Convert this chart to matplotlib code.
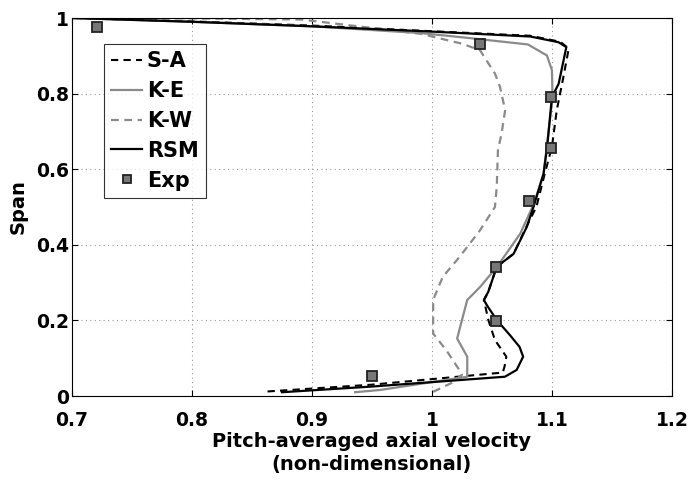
import matplotlib.pyplot as plt

# values
sa_x = [0.863, 0.95, 1.059, 1.0605, 1.062, 1.0525, 1.047, 1.0433, 1.047, 1.054, 1.068, 1.080,
        1.087, 1.094, 1.100, 1.104, 1.109, 1.114, 1.107, 1.082, 1.0, 0.9, 0.8, 0.7]
sa_y = [0.012, 0.030, 0.062, 0.078, 0.104, 0.148, 0.201, 0.254, 0.276, 0.342, 0.376, 0.456,
        0.500, 0.588, 0.659, 0.756, 0.835, 0.919, 0.937, 0.953, 0.965, 0.980, 0.991, 1.0]

ke_x = [0.936, 0.957, 1.0294, 1.0294, 1.021, 1.0294, 1.040, 1.054, 1.0735, 1.085, 1.093,
        1.097, 1.1005, 1.100, 1.0958, 1.080, 1.025, 0.991, 0.9, 0.8, 0.7]
ke_y = [0.010, 0.016, 0.051, 0.104, 0.152, 0.254, 0.288, 0.341, 0.429, 0.509, 0.588,
        0.694, 0.791, 0.862, 0.901, 0.930, 0.949, 0.960, 0.978, 0.990, 1.0]

kw_x = [1.001, 1.016, 1.025, 1.023, 1.012, 1.001, 1.001, 1.002, 1.009, 1.023, 1.040, 1.0525,
        1.054, 1.055, 1.058, 1.061, 1.0567, 1.0525, 1.040, 1.025, 0.991, 0.891, 0.8, 0.7]
kw_y = [0.011, 0.034, 0.056, 0.068, 0.121, 0.165, 0.254, 0.262, 0.315, 0.368, 0.438, 0.500,
        0.553, 0.650, 0.694, 0.756, 0.818, 0.853, 0.915, 0.932, 0.958, 0.996, 0.999, 1.0]

rsm_x = [0.875, 0.95, 1.0608, 1.0706, 1.076, 1.073, 1.065, 1.054, 1.0456, 1.0433, 1.047,
         1.054, 1.068, 1.079, 1.0846, 1.093, 1.096, 1.100, 1.1056, 1.112, 1.1054, 1.082,
         1.0, 0.9, 0.8, 0.7]
rsm_y = [0.010, 0.025, 0.051, 0.069, 0.104, 0.130, 0.161, 0.201, 0.241, 0.254, 0.276,
         0.342, 0.376, 0.447, 0.500, 0.588, 0.659, 0.791, 0.826, 0.923, 0.936, 0.951,
         0.964, 0.978, 0.990, 1.0]

exp_x = [0.721, 1.040, 1.099, 1.099, 1.081, 1.053, 1.053, 0.950]
exp_y = [0.976, 0.931, 0.791, 0.657, 0.517, 0.342, 0.199, 0.053]

plt.rcParams['font.family'] = ['DejaVu Sans']
plt.rcParams['font.weight'] = 'bold'

fig = plt.figure(figsize=(6.92, 4.8), dpi=100)
ax = fig.add_axes([0.104, 0.175, 0.867, 0.7875])

dash = (0, (3.5, 2.5))
ax.plot(sa_x, sa_y, color='black', linestyle=dash, linewidth=1.5, label='S-A')
ax.plot(ke_x, ke_y, color='#8a8a8a', linestyle='-', linewidth=1.6, label='K-E')
ax.plot(kw_x, kw_y, color='#8a8a8a', linestyle=dash, linewidth=1.6, label='K-W')
ax.plot(rsm_x, rsm_y, color='black', linestyle='-', linewidth=1.6, label='RSM')
ax.plot(exp_x, exp_y, linestyle='none', marker='s', markersize=7.5,
        markerfacecolor='#777777', markeredgecolor='#222222', markeredgewidth=1.3, label='Exp')

ax.set_xlim(0.7, 1.2)
ax.set_ylim(0, 1)
ax.set_xticks([0.7, 0.8, 0.9, 1.0, 1.1, 1.2])
ax.set_xticklabels(['0.7', '0.8', '0.9', '1', '1.1', '1.2'])
ax.set_yticks([0, 0.2, 0.4, 0.6, 0.8, 1.0])
ax.set_yticklabels(['0', '0.2', '0.4', '0.6', '0.8', '1'])
ax.tick_params(direction='in', top=True, right=True, labelsize=13.5, length=4)
ax.tick_params(axis='x', pad=11)
ax.tick_params(axis='y', pad=2)
for lab in ax.get_xticklabels() + ax.get_yticklabels():
    lab.set_fontweight('bold')
ax.grid(True, linestyle=(0, (1, 3)), color='#999999', linewidth=0.8)

ax.set_xlabel('Pitch-averaged axial velocity\n(non-dimensional)', fontsize=14,
              fontweight='bold', linespacing=1.3, labelpad=1)
ax.set_ylabel('Span', fontsize=14, fontweight='bold', labelpad=6)

leg = ax.legend(loc='upper left', bbox_to_anchor=(0.0533, 0.931), fontsize=15,
                frameon=True, fancybox=False, edgecolor='black', handlelength=1.5,
                handletextpad=0.2, borderpad=0.35, labelspacing=0.47, borderaxespad=0,
                markerscale=0.8)
leg.get_frame().set_linewidth(0.8)
for t in leg.get_texts():
    t.set_fontweight('bold')

fig.savefig('out.png', dpi=100)
